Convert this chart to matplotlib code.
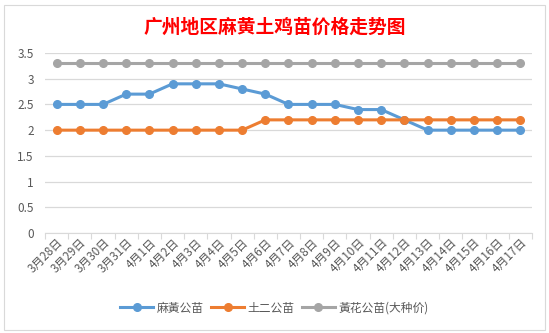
import matplotlib
matplotlib.use('Agg')
import matplotlib.pyplot as plt
from matplotlib.patches import Rectangle

plt.rcParams['font.family'] = ['Noto Sans CJK SC', 'DejaVu Sans']

# 数据
dates = ['3月28日', '3月29日', '3月30日', '3月31日'] + ['4月%d日' % d for d in range(1, 18)]
mahuang = [2.5, 2.5, 2.5, 2.7, 2.7, 2.9, 2.9, 2.9, 2.8, 2.7, 2.5,
           2.5, 2.5, 2.4, 2.4, 2.2, 2.0, 2.0, 2.0, 2.0, 2.0]
tuer = [2.0, 2.0, 2.0, 2.0, 2.0, 2.0, 2.0, 2.0, 2.0, 2.2, 2.2,
        2.2, 2.2, 2.2, 2.2, 2.2, 2.2, 2.2, 2.2, 2.2, 2.2]
huanghua = [3.3] * 21
series_names = ['麻黃公苗', '土二公苗', '黃花公苗(大种价)']
colors = ['#5B9BD5', '#ED7D31', '#A5A5A5']

fig = plt.figure(figsize=(5.49, 3.33), dpi=100)
fig.patches.append(Rectangle((0.008, 0.01), 0.984, 0.975, transform=fig.transFigure,
                             fill=False, edgecolor='#D9D9D9', linewidth=0.8))
ax = fig.add_axes([0.082, 0.300, 0.887, 0.541])

x = list(range(len(dates)))
for ys, name, c in zip([mahuang, tuer, huanghua], series_names, colors):
    ax.plot(x, ys, color=c, linewidth=2.2, marker='o', markersize=5.5, label=name, zorder=3)

ax.set_xlim(-0.5, len(dates) - 0.5)
ax.set_ylim(0, 3.5)
ax.set_yticks([0, 0.5, 1, 1.5, 2, 2.5, 3, 3.5])
ax.set_yticklabels(['0', '0.5', '1', '1.5', '2', '2.5', '3', '3.5'])
ax.yaxis.grid(True, color='#D9D9D9', linewidth=0.9)
ax.set_axisbelow(True)
for s in ['top', 'right', 'left']:
    ax.spines[s].set_visible(False)
ax.spines['bottom'].set_color('#D9D9D9')
ax.tick_params(axis='y', length=0, labelsize=8.5, labelcolor='#595959', pad=8)

# 类别轴: 刻度在分类边界, 标签在中间
ax.set_xticks([i - 0.5 for i in range(len(dates) + 1)], minor=False)
ax.set_xticklabels([])
ax.tick_params(axis='x', which='major', length=4, color='#D9D9D9')
ax.set_xticks(x, minor=True)
ax.set_xticklabels(dates, minor=True, rotation=45, ha='right', va='top',
                   rotation_mode='anchor', fontsize=8.5, color='#595959')
ax.tick_params(axis='x', which='minor', length=0, pad=2)

fig.text(0.5, 0.918, '广州地区麻黄土鸡苗价格走势图', ha='center', va='center',
         fontsize=13.5, color='#FF0000', fontweight='bold')

fig.legend(loc='center', bbox_to_anchor=(0.5, 0.075), ncol=3, frameon=False,
           fontsize=8.5, handlelength=2.8, columnspacing=0.6, handletextpad=0.3,
           labelcolor='#595959')

fig.savefig('out.png', dpi=100)
